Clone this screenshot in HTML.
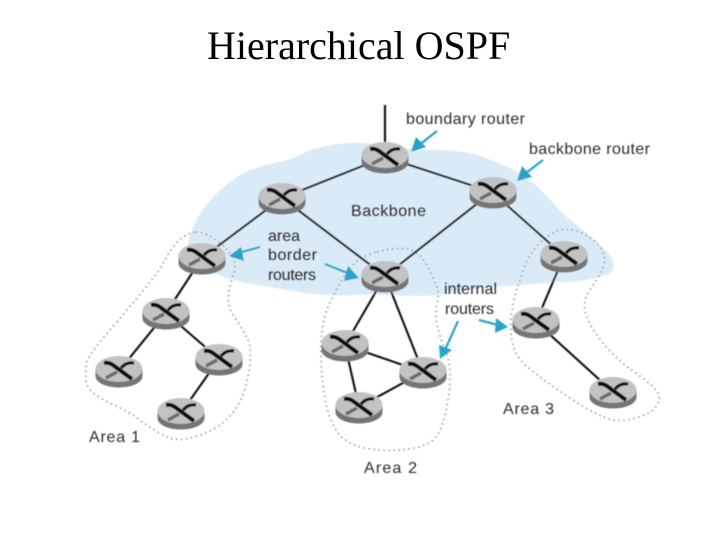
<!DOCTYPE html>
<html><head><meta charset="utf-8">
<style>
html,body{margin:0;padding:0;background:#fff;width:720px;height:540px;overflow:hidden}
svg{display:block}
.l{font-family:"Liberation Sans",sans-serif;font-size:16px;fill:#2a2a2a}
.t{font-family:"Liberation Serif",serif;font-size:40px;fill:#000}
.e{stroke:#111;stroke-width:2.1;fill:none}
.d{fill:none;stroke:#9a9a9a;stroke-width:1.6;stroke-dasharray:1.6 3.4}
.a{stroke:#2aa3c8;stroke-width:2.2;fill:none}
.h{fill:#2aa3c8}
</style></head>
<body>
<svg width="720" height="540" viewBox="0 0 720 540" xmlns="http://www.w3.org/2000/svg">
<defs>
<filter id="b" x="-5%" y="-5%" width="110%" height="110%"><feGaussianBlur stdDeviation="0.45"/></filter>
<g id="r">
<path d="M-23.5,-2 V5 C-23.5,12 -12,16.5 0,16.5 C12,16.5 23.5,12 23.5,5 V-2 Z" fill="#747477"/>
<ellipse cx="0" cy="-2" rx="23.5" ry="13" fill="#c2c2c3"/>
<path d="M-15,-8 C-9,-9 -6,-6 -2,-3 L13,8" stroke="#0a0a0a" stroke-width="4" fill="none"/>
<path d="M15,-8 C8,-9 5,-6 2,-3" stroke="#0a0a0a" stroke-width="3.2" fill="none"/>
<path d="M-2,1 L-13,7" stroke="#6a6a6a" stroke-width="3.4" fill="none"/>
</g>
</defs>
<text class="t" x="207" y="59">Hierarchical OSPF</text>
<g filter="url(#b)">
<path d="M187,250 C190,225 205,198 237,177 C260,162 285,165 303,153 C320,145 345,142 365,143 C390,146 410,150 433,150 C455,150 470,152 483,157 C505,165 520,172 533,183 C548,195 556,208 567,217 C585,232 602,245 612,258 C616,268 613,275 600,277 C585,280 580,282 560,282 C540,283 525,285 505,286 C485,287 465,291 440,295 C415,298 385,293 355,295 C330,297 300,293 270,287 C245,283 232,280 218,275 C200,270 186,265 187,250 Z" fill="#d9ebf7"/>
<path class="d" d="M196,232 Q205,231 221,244 Q237,257 235,270 Q230,283 228.5,295 Q227,307 235,318 Q243,330 248,340 Q253,350 248,376 Q243,403 230,416 Q217,430 197,436 Q177,443 165,436 Q153,430 141,421 Q130,412 108,402 Q87,392 86,381 Q85,370 87,361 Q90,353 115,324 Q140,295 150,282 Q160,270 165,260 Q170,250 178,241 Q187,233 196,232Z"/>
<path class="d" d="M377,252 Q397,247 408,249 Q420,252 426,264 Q433,277 436,285 Q440,293 437,303 Q435,313 437,325 Q440,337 446,353 Q453,370 448,400 Q443,430 435,438 Q427,447 408,449 Q390,452 371,449 Q353,447 343,438 Q333,430 327,408 Q322,387 321,357 Q320,327 328,307 Q337,287 347,272 Q357,257 377,252Z"/>
<path class="d" d="M548,236 Q563,225 580,232 Q597,240 602,250 Q607,260 602,270 Q597,280 589,291 Q582,303 586,315 Q590,327 603,343 Q617,360 633,371 Q650,383 656,390 Q662,397 657,405 Q653,413 636,418 Q620,423 606,418 Q593,413 573,400 Q553,387 535,373 Q517,360 513,346 Q510,333 511,318 Q513,303 516,291 Q520,280 526,263 Q533,247 548,236Z"/>
<path class="e" d="M385,105V150M385,157L282,198M385,157L492,192M282,198L202,258M282,198L385,276M492,192L385,276M492,192L564,256M202,258L166,313M166,313L119,371M166,313L219,359M219,359L181,413M385,276L345,345M385,276L423,372M345,345L423,372M345,345L359,407M423,372L359,407M564,256L536,322M536,322L613,392"/>
<use href="#r" x="385" y="157"/>
<use href="#r" x="282" y="198"/>
<use href="#r" x="493" y="192"/>
<use href="#r" x="202" y="258"/>
<use href="#r" x="385" y="276"/>
<use href="#r" x="564" y="256"/>
<use href="#r" x="166" y="313"/>
<use href="#r" x="119" y="371"/>
<use href="#r" x="219" y="359"/>
<use href="#r" x="181" y="413"/>
<use href="#r" x="345" y="345"/>
<use href="#r" x="423" y="372"/>
<use href="#r" x="359" y="407"/>
<use href="#r" x="536" y="322"/>
<use href="#r" x="613" y="392"/>
<path class="a" d="M437,131L418,146M543,160L526,173M260,247L238,253M325,264L350,274M479,320L498,325M458,321L445,350"/>
<path class="h" d="M411,152L426,147L416,137Z"/>
<path class="h" d="M517,181L532,177L522,166Z"/>
<path class="h" d="M229,256L244,261L241,247Z"/>
<path class="h" d="M359,278L348,266L344,281Z"/>
<path class="h" d="M508,327L496,318L495,333Z"/>
<path class="h" d="M440,359L452,350L439,345Z"/>
</g>
<g filter="url(#b)">
<text class="l" x="406" y="124" textLength="119" lengthAdjust="spacing">boundary router</text>
<text class="l" x="529" y="154" textLength="121" lengthAdjust="spacing">backbone router</text>
<text class="l" x="351" y="216" textLength="75" lengthAdjust="spacing">Backbone</text>
<text class="l" x="268" y="241" textLength="32" lengthAdjust="spacing">area</text>
<text class="l" x="268" y="260" textLength="49" lengthAdjust="spacing">border</text>
<text class="l" x="268" y="280" textLength="48" lengthAdjust="spacing">routers</text>
<text class="l" x="444" y="294" textLength="53" lengthAdjust="spacing">internal</text>
<text class="l" x="445" y="314" textLength="49" lengthAdjust="spacing">routers</text>
<text class="l" x="89" y="442" textLength="51" lengthAdjust="spacing">Area 1</text>
<text class="l" x="364" y="473" textLength="53" lengthAdjust="spacing">Area 2</text>
<text class="l" x="503" y="414" textLength="51" lengthAdjust="spacing">Area 3</text>
</g>
</svg>
</body></html>
